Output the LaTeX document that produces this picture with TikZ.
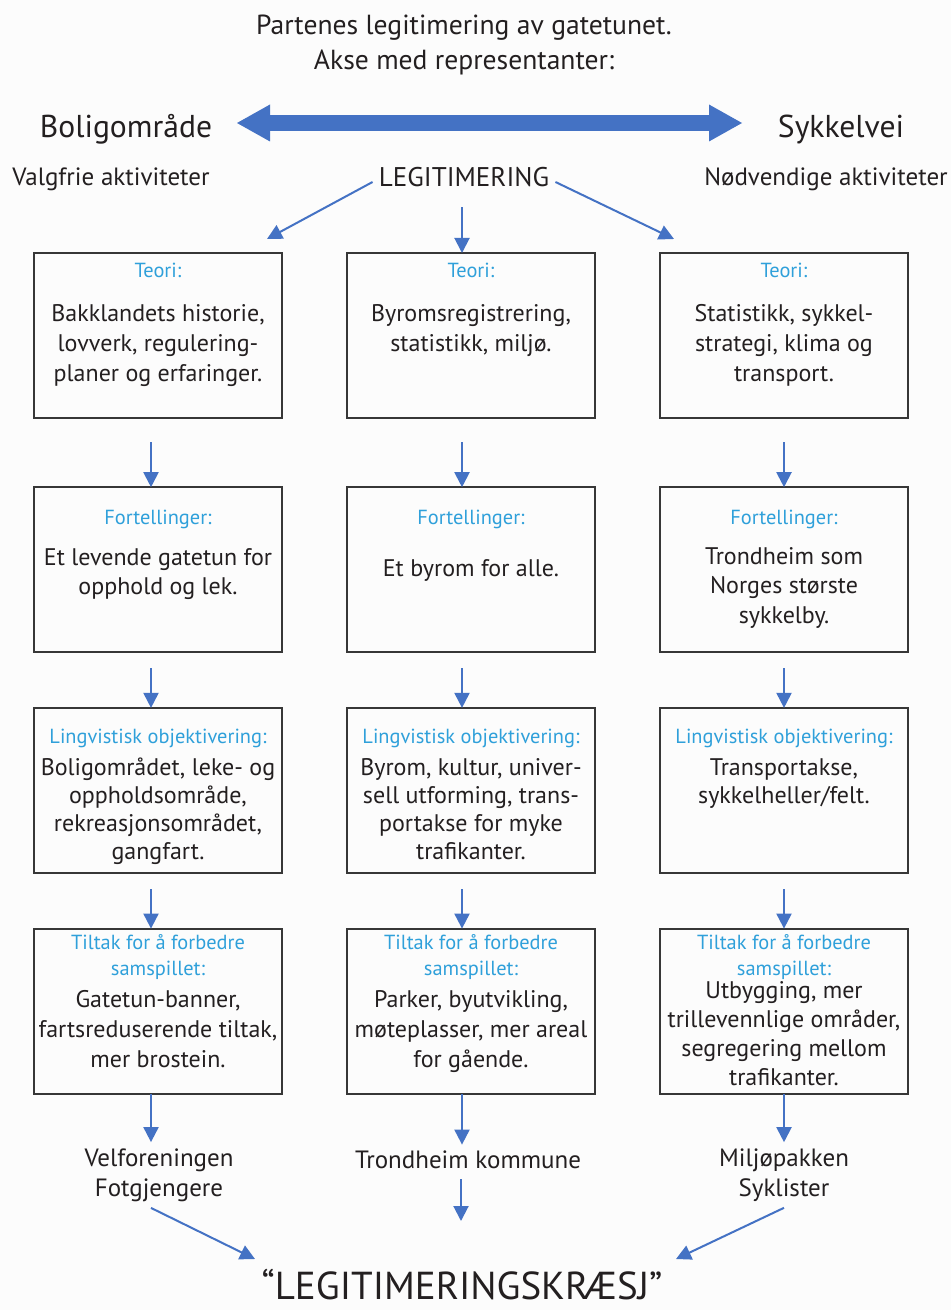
\documentclass[tikz,border=0pt]{standalone}
\usepackage{fontspec}
\setmainfont{PT Sans}
\usetikzlibrary{matrix,arrows.meta,positioning}

\definecolor{arrowblue}{RGB}{68,114,196}
\definecolor{headblue}{RGB}{47,160,218}
\definecolor{inkgray}{RGB}{35,31,32}
\definecolor{boxgray}{RGB}{55,55,55}
\definecolor{pagebg}{RGB}{252,252,252}

\newcommand{\headfont}{\fontsize{10.2}{13}\selectfont}
% [#1 body line skip] #2 header baseline from top, #3 header to body baseline, #4 header, #5 body
\newcommand{\boxtext}[5][15]{\parbox[c][82.6pt][t]{123pt}{\centering
  \vspace*{\dimexpr#2pt-8.5pt\relax}%
  {\headfont\leavevmode\color{headblue}\vrule height8.5pt width0pt\relax #4\par}%
  \vspace{\dimexpr#3pt-#1pt\relax}%
  {\fontsize{12}{#1}\selectfont\leavevmode #5\par}}}

\begin{document}
\begin{tikzpicture}[x=0.5pt,y=-0.5pt,
    arr/.style={draw=arrowblue, line width=1pt, -{Triangle[length=7.5pt,width=7.5pt]}},
    bigarr/.style={draw=arrowblue, line width=8pt,
      {Triangle[length=16.5pt,width=18.5pt,line width=0pt]}-{Triangle[length=16.5pt,width=18.5pt,line width=0pt]}},
    lbl/.style={text=inkgray, inner sep=3pt, align=center}]
  \fill[pagebg] (0,0) rectangle (951,1310);
  \useasboundingbox (0,0) rectangle (951,1310);

  \node[lbl, font=\fontsize{13.8}{17.5}\selectfont] (title) at (464,45)
    {Partenes legitimering av gatetunet.\\Akse med representanter:};
  \node[lbl, font=\fontsize{15.8}{18}\selectfont] (bolig) at (126,129) {Boligområde};
  \node[lbl, font=\fontsize{15.8}{18}\selectfont] (syk) at (841,129) {Sykkelvei};
  \node[lbl, font=\fontsize{12.5}{14}\selectfont] (valg) at (111,179) {Valgfrie aktiviteter};
  \node[lbl, font=\fontsize{12.5}{14}\selectfont] (nodv) at (826,179) {Nødvendige aktiviteter};
  \node[lbl, font=\fontsize{13.5}{15}\selectfont] (leg) at (464,177) {LEGITIMERING};

  \matrix (m) [matrix of nodes, anchor=north west, inner sep=0pt, outer sep=0pt,
      column sep=31.5pt, row sep=26.75pt,
      nodes={draw=boxgray, line width=1pt, minimum width=124pt, minimum height=82.6pt,
        inner sep=0pt, outer sep=0pt, text=inkgray, anchor=center}] at (33,252) {
    \boxtext{12}{22}{Teori:}{Bakklandets historie,\par lovverk, regulering-\par planer og erfaringer.} &
    \boxtext{12}{22}{Teori:}{Byromsregistrering,\par statistikk, miljø.} &
    \boxtext{12}{22}{Teori:}{Statistikk, sykkel-\par strategi, klima og\par transport.} \\[6.75pt]
    \boxtext[14.75]{18.5}{20.5}{Fortellinger:}{Et levende gatetun for\par opphold og lek.} &
    \boxtext[14.75]{18.5}{26}{Fortellinger:}{Et byrom for alle.} &
    \boxtext[14.75]{18.5}{20}{Fortellinger:}{Trondheim som\par Norges største\par sykkelby.} \\
    \boxtext[14]{18}{16}{Lingvistisk objektivering:}{Boligområdet, leke- og\par oppholdsområde,\par rekreasjonsområdet,\par gangfart.} &
    \boxtext[14]{18}{16}{Lingvistisk objektivering:}{Byrom, kultur, univer-\par sell utforming, trans-\par portakse for myke\par trafikanter.} &
    \boxtext[14]{18}{16}{Lingvistisk objektivering:}{Transportakse,\par sykkelheller/felt.} \\
    \boxtext{10.5}{16}{Tiltak for å forbedre\par samspillet:}{Gatetun-banner,\par fartsreduserende tiltak,\par mer brostein.} &
    \boxtext{10.5}{16}{Tiltak for å forbedre\par samspillet:}{Parker, byutvikling,\par møteplasser, mer areal\par for gående.} &
    \boxtext[14.5]{10.5}{11.5}{Tiltak for å forbedre\par samspillet:}{Utbygging, mer\par trillevennlige områder,\par segregering mellom\par trafikanter.} \\
  };

  \node[lbl, font=\fontsize{12.5}{15}\selectfont] (p1) at (159,1175) {Velforeningen\\Fotgjengere};
  \node[lbl, font=\fontsize{12.5}{15}\selectfont] (p2) at (468,1160) {Trondheim kommune};
  \node[lbl, font=\fontsize{12.5}{15}\selectfont] (p3) at (784,1175) {Miljøpakken\\Syklister};
  \node[lbl, inner sep=0pt, font=\fontsize{19.5}{21}\selectfont] (crash) at (462,1285) {“LEGITIMERINGSKRÆSJ”};

  \coordinate (al) at (237,123);
  \coordinate (ar) at (742,123);
  \coordinate (tl) at (267,239);
  \coordinate (tr) at (674,239);
  \coordinate (cl) at (255,1259);
  \coordinate (cm) at (461,1221);
  \coordinate (cr) at (676,1259);

  \draw[bigarr] (al) -- (ar);
  \draw[arr] ([yshift=-2.5pt]leg.west) -- (tl);
  \draw[arr] ([yshift=-2.5pt]leg.east) -- (tr);
  \coordinate (t2) at ([xshift=-4.5pt]m-1-2.north);
  \draw[arr] (t2 |- leg.south) ++(0,14) -- (t2);

  \foreach \c/\dx in {1/-3.5,2/-4.5,3/0}{
    \coordinate (b\c) at ([xshift=\dx pt]m-4-\c.south);
    \draw[arr] ([xshift=\dx pt,yshift=-12pt]m-1-\c.south) -- ([xshift=\dx pt]m-2-\c.north);
    \draw[arr] ([xshift=\dx pt,yshift=-8pt]m-2-\c.south) -- ([xshift=\dx pt]m-3-\c.north);
    \draw[arr] ([xshift=\dx pt,yshift=-8pt]m-3-\c.south) -- ([xshift=\dx pt]m-4-\c.north);
    \draw[arr] (b\c) -- (b\c |- p\c.north);
  }

  \draw[arr] (b1 |- p1.south) -- (cl);
  \draw[arr] (cm |- p2.south) ++(0,4) -- (cm);
  \draw[arr] (b3 |- p3.south) -- (cr);
\end{tikzpicture}
\end{document}
